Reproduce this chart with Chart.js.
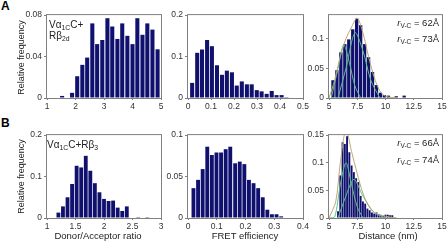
<!DOCTYPE html>
<html>
<head>
<meta charset="utf-8">
<script src="https://cdn.jsdelivr.net/npm/chart.js@4.4.1/dist/chart.umd.min.js"></script>
<style>
    html, body { margin: 0; padding: 0; background: #fff; }
    body {
        width: 448px; height: 243px; position: relative; overflow: hidden;
        font-family: "Liberation Sans", Arial, sans-serif; color: #222;
    }
    canvas { position: absolute; }
    .t { position: absolute; white-space: nowrap; line-height: 1; }
    .s { font-size: 68%; position: relative; top: 2px; }
</style>
</head>
<body>
<canvas id="a1"></canvas>
<canvas id="a2"></canvas>
<canvas id="a3"></canvas>
<canvas id="b1"></canvas>
<canvas id="b2"></canvas>
<canvas id="b3"></canvas>

<div class="t" style="left:1px;top:0px;font-size:12px;font-weight:bold;color:#000">A</div>
<div class="t" style="left:1px;top:117px;font-size:12px;font-weight:bold;color:#000">B</div>

<div class="t" style="left:-29px;top:53px;width:100px;text-align:center;font-size:9px;transform:rotate(-90deg)">Relative frequency</div>
<div class="t" style="left:-29px;top:172px;width:100px;text-align:center;font-size:9px;transform:rotate(-90deg)">Relative frequency</div>

<div class="t" style="left:48px;top:231px;width:100px;text-align:center;font-size:9.5px">Donor/Acceptor ratio</div>
<div class="t" style="left:195px;top:231px;width:100px;text-align:center;font-size:9.5px">FRET efficiency</div>
<div class="t" style="left:338px;top:231px;width:100px;text-align:center;font-size:9.5px">Distance (nm)</div>

<div class="t" style="left:49px;top:20px;font-size:10px">Vα<span class="s">1C</span>C+</div>
<div class="t" style="left:49px;top:31px;font-size:10px">Rβ<span class="s">2d</span></div>
<div class="t" style="left:47px;top:140px;font-size:10px">Vα<span class="s">1C</span>C+Rβ<span class="s">3</span></div>

<div class="t" style="right:9px;top:18px;font-size:9.5px"><i>r</i><span class="s">V-C</span> = 62Å</div>
<div class="t" style="right:9px;top:34px;font-size:9.5px"><i>r</i><span class="s">V-C</span> = 73Å</div>
<div class="t" style="right:9px;top:138px;font-size:9.5px"><i>r</i><span class="s">V-C</span> = 66Å</div>
<div class="t" style="right:9px;top:155px;font-size:9.5px"><i>r</i><span class="s">V-C</span> = 74Å</div>

<script>
// A: Vα1C C + Rβ2d
const ratioA_x = [1.53, 1.71, 1.88, 2.06, 2.24, 2.41, 2.59, 2.76, 2.94, 3.12, 3.29, 3.47, 3.64, 3.82, 4.0, 4.17, 4.35, 4.52, 4.7, 4.88];
const ratioA_y = [0.002, 0, 0.005, 0.021, 0.032, 0.039, 0.072, 0.052, 0.056, 0.077, 0.069, 0.057, 0.072, 0.06, 0.052, 0.077, 0.061, 0.072, 0.066, 0.047];

const fretA_x = [0.018, 0.04, 0.061, 0.083, 0.104, 0.126, 0.148, 0.169, 0.191, 0.212, 0.234, 0.256, 0.277, 0.299, 0.32, 0.342, 0.364, 0.385, 0.407, 0.428];
const fretA_y = [0.0365, 0.109, 0.117, 0.14, 0.125, 0.079, 0.056, 0.066, 0.062, 0.03, 0.04, 0.033, 0.033, 0.019, 0.016, 0.01, 0.017, 0.007, 0.007, 0.002];

const distA_x = [5.35, 5.7, 6.05, 6.4, 6.75, 7.1, 7.45, 7.8, 8.15, 8.5, 8.85, 9.2, 9.55, 9.9, 10.25, 10.6, 10.95, 11.3, 11.65];
const distA_y = [0.03, 0.047, 0.077, 0.091, 0.099, 0.116, 0.134, 0.123, 0.091, 0.069, 0.044, 0.022, 0.009, 0.005, 0.004, 0, 0.003, 0, 0.004];

const fitA_x = [5.0, 5.5, 6.0, 6.5, 7.0, 7.5, 8.0, 8.5, 9.0, 9.5, 10.0, 11.0];
const fitA_y = [0, 0.03, 0.07, 0.1, 0.12, 0.135, 0.11, 0.07, 0.035, 0.012, 0.003, 0];
const compA1_x = [5.2, 5.8, 6.3, 6.8, 7.3, 7.8];
const compA1_y = [0, 0.05, 0.09, 0.06, 0.02, 0];
const compA2_x = [5.8, 6.5, 7.3, 8.0, 8.7, 9.5];
const compA2_y = [0, 0.05, 0.11, 0.08, 0.03, 0];

// B: Vα1C C + Rβ3
const ratioB_x = [1.2, 1.28, 1.36, 1.44, 1.52, 1.6, 1.68, 1.76, 1.84, 1.92, 2.0, 2.08, 2.16, 2.24, 2.32, 2.4, 2.6, 2.76];
const ratioB_y = [0.013, 0.028, 0.05, 0.082, 0.126, 0.122, 0.15, 0.114, 0.084, 0.062, 0.046, 0.041, 0.042, 0.025, 0.017, 0.028, 0.002, 0.002];

const fretB_x = [0.019, 0.035, 0.051, 0.067, 0.083, 0.099, 0.115, 0.131, 0.147, 0.164, 0.18, 0.196, 0.212, 0.228, 0.244, 0.26, 0.276, 0.292, 0.308, 0.324];
const fretB_y = [0.036, 0.046, 0.059, 0.086, 0.076, 0.079, 0.079, 0.083, 0.086, 0.066, 0.068, 0.065, 0.046, 0.042, 0.036, 0.025, 0.01, 0.0045, 0.0045, 0.002];

const distB_x = [5.8, 6.0, 6.2, 6.4, 6.6, 6.8, 7.0, 7.2, 7.4, 7.6, 7.8, 8.0, 8.2, 8.4, 8.6, 8.8, 9.0, 9.2, 9.4, 9.6, 9.8, 10.0, 10.2, 10.4, 10.6];
const distB_y = [0.012, 0.077, 0.137, 0.134, 0.148, 0.119, 0.095, 0.083, 0.072, 0.065, 0.04, 0.03, 0.026, 0.017, 0.014, 0.01, 0.008, 0.01, 0.007, 0.005, 0.004, 0.006, 0.006, 0.005, 0.005];

const fitB_x = [5.0, 5.6, 6.0, 6.5, 7.0, 7.5, 8.0, 8.5, 9.0, 10.0, 11.0];
const fitB_y = [0, 0.03, 0.1, 0.16, 0.12, 0.08, 0.045, 0.022, 0.01, 0.003, 0];
const compB1_x = [5.0, 5.5, 6.0, 6.5, 7.0, 7.5, 8.0];
const compB1_y = [0, 0.002, 0.06, 0.1, 0.06, 0.02, 0];
const compB2_x = [5.8, 6.5, 7.2, 8.0, 9.0, 10.0];
const compB2_y = [0, 0.04, 0.07, 0.04, 0.01, 0];

const BAR = "#10106f";
const OLIVE = "#bba774";
const GREEN = "#58c08a";
const FONT = { family: "'Liberation Sans', Arial, sans-serif", size: 8.5 };

const framePlugin = {
    id: "frame",
    afterDatasetsDraw(chart) {
        const { ctx, chartArea: a } = chart;
        ctx.save();
        ctx.strokeStyle = "#808080";
        ctx.lineWidth = 1;
        ctx.strokeRect(a.left - 0.5, a.top - 0.5, a.right - a.left + 1, a.bottom - a.top + 1);
        ctx.restore();
    },
};

const fmt = (v) => String(+Number(v).toFixed(3));
const pts = (xs, ys) => xs.map((x, i) => ({ x: x, y: ys[i] }));

function panel(id, box, xs, ys, xr, yr, lines) {
    const Y_W = 34, TOP = 6, X_H = 16, RIGHT = 10;
    const canvas = document.getElementById(id);
    canvas.width = box.w + Y_W + RIGHT;
    canvas.height = box.h + TOP + X_H;
    canvas.style.left = box.x - Y_W + "px";
    canvas.style.top = box.y - TOP + "px";

    const datasets = [
        {
            type: "bar",
            data: pts(xs, ys),
            backgroundColor: BAR,
            borderWidth: 0,
            barPercentage: 1,
            categoryPercentage: 0.84,
            order: 2,
        },
    ];
    (lines || []).forEach((l) => {
        datasets.push({
            type: "line",
            data: pts(l.x, l.y),
            borderColor: l.color,
            borderWidth: 1,
            pointRadius: 0,
            tension: 0.3,
            fill: false,
            order: 1,
        });
    });

    new Chart(canvas, {
        type: "bar",
        data: { datasets },
        plugins: [framePlugin],
        options: {
            responsive: false,
            animation: false,
            layout: { padding: { top: TOP, right: RIGHT, left: 0, bottom: 0 } },
            plugins: { legend: { display: false }, tooltip: { enabled: false } },
            scales: {
                x: {
                    type: "linear",
                    offset: false,
                    min: xr[0],
                    max: xr[1],
                    afterFit: (s) => { s.height = X_H; },
                    border: { display: false },
                    grid: { offset: false, drawOnChartArea: false, color: "#808080", tickLength: 2 },
                    ticks: {
                        stepSize: xr[2],
                        includeBounds: false,
                        maxRotation: 0,
                        autoSkip: false,
                        color: "#333",
                        padding: 2,
                        font: FONT,
                        callback: fmt,
                    },
                },
                y: {
                    min: 0,
                    max: yr[0],
                    afterFit: (s) => { s.width = Y_W; },
                    border: { display: false },
                    grid: { drawOnChartArea: false, color: "#808080", tickLength: 3 },
                    ticks: {
                        stepSize: yr[1],
                        includeBounds: false,
                        color: "#333",
                        padding: 2,
                        font: FONT,
                        callback: fmt,
                    },
                },
            },
        },
    });
}

const rowA = 14, rowB = 134, rowH = 84;

panel("a1", { x: 47, y: rowA, w: 114, h: rowH }, ratioA_x, ratioA_y, [1, 5, 1], [0.08, 0.04]);
panel("a2", { x: 188, y: rowA, w: 115, h: rowH }, fretA_x, fretA_y, [0, 0.5, 0.1], [0.2, 0.1]);
panel("a3", { x: 329, y: rowA, w: 113, h: rowH }, distA_x, distA_y, [5, 15, 2.5], [0.14, 0.05], [
    { x: fitA_x, y: fitA_y, color: OLIVE },
    { x: compA1_x, y: compA1_y, color: GREEN },
    { x: compA2_x, y: compA2_y, color: GREEN },
]);

panel("b1", { x: 47, y: rowB, w: 114, h: rowH }, ratioB_x, ratioB_y, [1, 3, 0.5], [0.2, 0.1]);
panel("b2", { x: 188, y: rowB, w: 115, h: rowH }, fretB_x, fretB_y, [0, 0.4, 0.1], [0.1, 0.05]);
panel("b3", { x: 329, y: rowB, w: 113, h: rowH }, distB_x, distB_y, [5, 15, 2.5], [0.15, 0.05], [
    { x: fitB_x, y: fitB_y, color: OLIVE },
    { x: compB1_x, y: compB1_y, color: GREEN },
    { x: compB2_x, y: compB2_y, color: GREEN },
]);
</script>
</body>
</html>
